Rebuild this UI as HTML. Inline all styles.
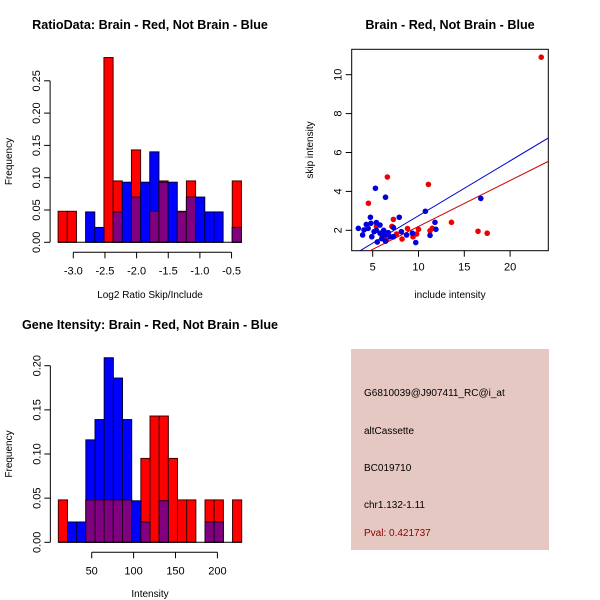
<!DOCTYPE html>
<html><head><meta charset="utf-8"><style>
body{margin:0;background:#fff;}
svg{display:block;font-family:"Liberation Sans",sans-serif;}
</style></head><body>
<svg id="c" width="600" height="600">
<rect width="600" height="600" fill="#fff"/>
</svg>
<script>
// ---- data ----
const ratioRed = [0.048,0.048,0,0,0,0.286,0.095,0,0.143,0,0.048,0.095,0,0.048,0.095,0,0,0,0,0.095];
const ratioBlue = [0,0,0,0.047,0.023,0,0.047,0.093,0.07,0.093,0.14,0.093,0.093,0.047,0.07,0.07,0.047,0.047,0,0.023];
const ratioStart = -3.24, ratioBinW = 0.1448;
const ratioXTicks = [-3.0,-2.5,-2.0,-1.5,-1.0,-0.5];
const ratioYTicks = [0,0.05,0.10,0.15,0.20,0.25];

const intRed = [0.048,0,0,0.048,0.048,0.048,0.048,0.048,0,0.095,0.143,0.143,0.095,0.048,0.048,0,0.048,0.048,0,0.048];
const intBlue = [0,0.023,0.023,0.116,0.139,0.209,0.186,0.139,0.047,0.023,0,0.047,0,0,0,0,0.023,0.023,0,0];
const intStart = 10.2, intBinW = 10.94;
const intXTicks = [50,100,150,200];
const intYTicks = [0,0.05,0.10,0.15,0.20];

const redX = [23.4,6.6,11.08,4.53,13.6,16.5,17.5,7.26,7.1,10,11.5,11.26,8.8,8.2,9.4,9.8,7.6,6.5,5.4,6];
const redY = [10.9,4.74,4.36,3.39,2.41,1.95,1.85,2.56,2.2,2.05,2.1,1.98,2.09,1.55,1.67,1.81,1.81,1.5,2.2,1.76];
const blueX = [16.8,5.3,6.4,10.75,7.9,4.75,11.8,11.9,11.26,9.7,9.33,8.13,3.43,3.9,4.05,4.3,4.8,5.4,5.8,4.9,5.5,6,6.35,6.7,7.26,7.26,6.4,5.15,5.8,6.9,4.5,6.2,5.4,8.7];
const blueY = [3.64,4.16,3.7,2.98,2.67,2.67,2.41,2.05,1.74,1.37,1.85,1.93,2.1,1.76,2.02,2.3,2.36,2.4,2.27,1.67,1.4,1.57,1.76,1.88,2.14,1.67,1.44,1.93,1.85,1.67,2.1,2.0,2.0,1.76];
const blueFit = [-0.07,0.282];
const redFit = [-0.16,0.236];
const scXTicks = [5,10,15,20];
const scYTicks = [2,4,6,8,10];

const NS="http://www.w3.org/2000/svg";
const svg=document.getElementById('c');
function mk(tag,attrs,parent,name){const e=document.createElementNS(NS,tag);for(const k in attrs)e.setAttribute(k,attrs[k]);


(parent||svg).appendChild(e);return e;}
function txt(s,x,y,opts,name){const t=mk('text',Object.assign({x:x,y:y,'font-size':11,fill:'#000'},opts||{}),null,name);t.textContent=s;return t;}

function hist(red,blue,start,bw,xTicks,xDec,yTicks,xs,ys,title,titleY,xlab,xlabY,pfx){
  const g=mk('g',{},null,pfx+'-histogram');
  for(let i=0;i<red.length;i++){
    const x0=xs(start+i*bw),x1=xs(start+(i+1)*bw);
    if(red[i]>0){mk('rect',{x:x0,y:ys(red[i]),width:x1-x0,height:ys(0)-ys(red[i]),fill:'#ff0000',stroke:'#400000','stroke-width':1},g,pfx+'-bar-red-'+i);}
  }
  for(let i=0;i<blue.length;i++){
    const x0=xs(start+i*bw),x1=xs(start+(i+1)*bw);
    if(blue[i]>0){mk('rect',{x:x0,y:ys(blue[i]),width:x1-x0,height:ys(0)-ys(blue[i]),fill:'#0000ff',stroke:'#000040','stroke-width':1},g,pfx+'-bar-blue-'+i);}
    const m=Math.min(red[i],blue[i]);
    if(m>0){mk('rect',{x:x0,y:ys(m),width:x1-x0,height:ys(0)-ys(m),fill:'#800080',stroke:'#200020','stroke-width':1},g,pfx+'-bar-overlap-'+i);}
  }
  const x0=xs(start),x1=xs(start+red.length*bw);
  mk('line',{x1:x0,x2:x1,y1:ys(0),y2:ys(0),stroke:'#000'},g,pfx+'-baseline');
  const ay=ys(0)+10;
  mk('line',{x1:xs(xTicks[0]),x2:xs(xTicks[xTicks.length-1]),y1:ay,y2:ay,stroke:'#000'},g,pfx+'-x-axis');
  xTicks.forEach(v=>{mk('line',{x1:xs(v),x2:xs(v),y1:ay,y2:ay+6,stroke:'#000'},g,pfx+'-x-tick');
    txt(v.toFixed(xDec),xs(v),ay+22,{'text-anchor':'middle'},pfx+'-x-tick-label');});
  const ax=x0-8;
  mk('line',{x1:ax,x2:ax,y1:ys(yTicks[0]),y2:ys(yTicks[yTicks.length-1]),stroke:'#000'},g,pfx+'-y-axis');
  yTicks.forEach(v=>{mk('line',{x1:ax-6,x2:ax,y1:ys(v),y2:ys(v),stroke:'#000'},g,pfx+'-y-tick');
    txt(v.toFixed(2),ax-10,ys(v),{'text-anchor':'middle',transform:'rotate(-90 '+(ax-10)+' '+ys(v)+')'},pfx+'-y-tick-label');});
  const my=(ys(0)+ys(yTicks[yTicks.length-1]))/2;
  txt('Frequency',12,my,{'text-anchor':'middle',transform:'rotate(-90 12 '+my+')','font-size':10},pfx+'-y-axis-title');
  txt(xlab,150,xlabY,{'text-anchor':'middle','font-size':10},pfx+'-x-axis-title');
  txt(title,150,titleY,{'text-anchor':'middle','font-weight':'bold','font-size':12.6},pfx+'-title');
}
hist(ratioRed,ratioBlue,ratioStart,ratioBinW,ratioXTicks,1,ratioYTicks,
  v=>73.3+(v+3)*63.3, v=>242.3-v*646,
  'RatioData: Brain - Red, Not Brain - Blue',29,'Log2 Ratio Skip/Include',298,'ratio');
hist(intRed,intBlue,intStart,intBinW,intXTicks,0,intYTicks,
  v=>91.7+(v-50)*0.838, v=>542.3-v*883,
  'Gene Itensity: Brain - Red, Not Brain - Blue',329,'Intensity',597,'intensity');

// scatter
(function(){
  const g=mk('g',{},null,'scatter-plot');
  const xs=v=>372.7+(v-5)*9.16, ys=v=>230.3-(v-2)*19.45;
  const L=351.7,R=548.3,T=49.3,B=250.7;
  const clip=mk('clipPath',{id:'sc'},g,'scatter-clip');
  mk('rect',{x:L,y:T,width:R-L,height:B-T},clip,'scatter-clip-rect');
  mk('rect',{x:L,y:T,width:R-L,height:B-T,fill:'none',stroke:'#000'},g,'scatter-frame');
  const cg=mk('g',{'clip-path':'url(#sc)'},g,'scatter-marks');
  const xa=2.7,xb=24.2;
  mk('line',{x1:xs(xa),y1:ys(blueFit[0]+blueFit[1]*xa),x2:xs(xb),y2:ys(blueFit[0]+blueFit[1]*xb),stroke:'#0000cc'},cg,'blue-fit-line');
  mk('line',{x1:xs(xa),y1:ys(redFit[0]+redFit[1]*xa),x2:xs(xb),y2:ys(redFit[0]+redFit[1]*xb),stroke:'#cc0000'},cg,'red-fit-line');
  redX.forEach((v,i)=>mk('circle',{cx:xs(v),cy:ys(redY[i]),r:2.8,fill:'#ee0000'},cg,'red-point'));
  blueX.forEach((v,i)=>mk('circle',{cx:xs(v),cy:ys(blueY[i]),r:2.8,fill:'#0000dd'},cg,'blue-point'));
  scXTicks.forEach(v=>{mk('line',{x1:xs(v),x2:xs(v),y1:B,y2:B+6,stroke:'#000'},g,'scatter-x-tick');
    txt(String(v),xs(v),B+20,{'text-anchor':'middle'},'scatter-x-tick-label');});
  scYTicks.forEach(v=>{mk('line',{x1:L-6,x2:L,y1:ys(v),y2:ys(v),stroke:'#000'},g,'scatter-y-tick');
    txt(String(v),L-10,ys(v),{'text-anchor':'middle',transform:'rotate(-90 '+(L-10)+' '+ys(v)+')'},'scatter-y-tick-label');});
  txt('include intensity',450,298,{'text-anchor':'middle','font-size':10},'scatter-x-axis-title');
  txt('skip intensity',313,150,{'text-anchor':'middle','font-size':10,transform:'rotate(-90 313 150)'},'scatter-y-axis-title');
  txt('Brain - Red, Not Brain - Blue',450,29,{'text-anchor':'middle','font-weight':'bold','font-size':12.6},'scatter-title');
})();

// info panel
(function(){
  const g=mk('g',{},null,'info-panel');
  mk('rect',{x:351,y:349,width:198,height:201,fill:'#e5c8c1'},g,'info-background');
  const lines=[['G6810039@J907411_RC@i_at',396,'#000','probe-id'],['altCassette',434,'#000','event-type'],['BC019710',471,'#000','accession'],['chr1.132-1.11',508,'#000','location'],['Pval: 0.421737',536,'#8b0000','p-value']];
  lines.forEach(l=>txt(l[0],364,l[1],{'font-size':10,fill:l[2]},l[3]));
})();
</script>
</body></html>
